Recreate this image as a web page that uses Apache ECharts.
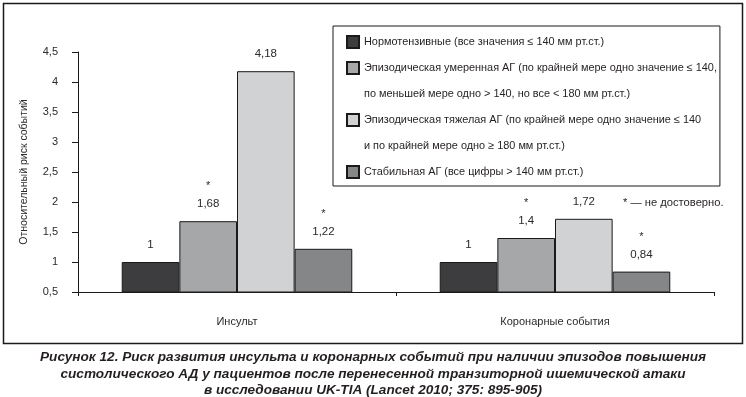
<!DOCTYPE html>
<html>
<head>
<meta charset="utf-8">
<script src="https://cdn.jsdelivr.net/npm/echarts@6/dist/echarts.min.js"></script>
<style>
  html, body { margin: 0; padding: 0; background: #ffffff; }
  #chart { width: 746px; height: 397px; }
</style>
</head>
<body>
<div id="chart"></div>
<script>
// ---- data ----
const categories = ['Инсульт', 'Коронарные события'];
const seriesNames = [
  'Нормотензивные (все значения ≤ 140 мм рт.ст.)',
  'Эпизодическая умеренная АГ (по крайней мере одно значение ≤ 140,',
  'Эпизодическая тяжелая АГ (по крайней мере одно значение ≤ 140',
  'Стабильная АГ (все цифры > 140 мм рт.ст.)'
];
const legendSecondLines = [
  '',
  'по меньшей мере одно > 140, но все < 180 мм рт.ст.)',
  'и по крайней мере одно ≥ 180 мм рт.ст.)',
  ''
];
const normotensive = [1, 1];
const episodicModerate = [1.68, 1.4];
const episodicSevere = [4.18, 1.72];
const stableAH = [1.22, 0.84];
const notSignificant = [
  [false, false],
  [true, true],
  [false, false],
  [true, true]
];
const yMin = 0.5, yMax = 4.5, yStep = 0.5;
const yAxisTitle = 'Относительный риск событий';
const footnote = '* — не достоверно.';
const caption = 'Рисунок 12. Риск развития инсульта и коронарных событий при наличии эпизодов повышения\nсистолического АД у пациентов после перенесенной транзиторной ишемической атаки\nв исследовании UK-TIA (Lancet 2010; 375: 895-905)';

const seriesValues = [normotensive, episodicModerate, episodicSevere, stableAH];
const barColors = ['#3d3d3f', '#a6a7a9', '#d1d2d4', '#858688'];

const FONT = "'Liberation Sans Narrow', 'Arial Narrow', 'Liberation Sans', Arial, sans-serif";
const fmt = v => String(v).replace('.', ',');

const chart = echarts.init(document.getElementById('chart'), null, { renderer: 'canvas' });

const series = seriesValues.map((vals, si) => ({
  name: seriesNames[si],
  type: 'bar',
  data: vals,
  barGap: '0%',
  barCategoryGap: '27.5%',
  itemStyle: { color: barColors[si], borderColor: '#1a1a1a', borderWidth: 1 },
  label: {
    show: true,
    position: 'top',
    distance: 10,
    formatter: p => {
      const v = fmt(p.value);
      return notSignificant[p.seriesIndex][p.dataIndex] ? '{s|*}\n{v|' + v + '}' : '{v|' + v + '}';
    },
    rich: {
      s: { fontSize: 11, lineHeight: 22, color: '#2a2a2a', fontFamily: FONT },
      v: { fontSize: 11.5, lineHeight: 14, color: '#2a2a2a', fontFamily: FONT }
    }
  }
}));

chart.setOption({
  animation: false,
  textStyle: { fontFamily: FONT },
  legend: {
    orient: 'vertical',
    left: 333,
    top: 26,
    padding: [3, 3, -25, 13],
    itemGap: -26,
    itemWidth: 12,
    itemHeight: 12,
    icon: 'rect',
    selectedMode: false,
    borderColor: '#1a1a1a',
    borderWidth: 1,
    backgroundColor: '#ffffff',
    data: seriesNames,
    formatter: name => {
      const i = seriesNames.indexOf(name);
      if (i === 0) return name;
      return '\n' + name + '\n' + legendSecondLines[i];
    },
    textStyle: { fontFamily: FONT, fontSize: 10.9, lineHeight: 26, color: '#231f20' }
  },
  grid: { left: 78, right: 32, top: 52, bottom: 105 },
  xAxis: {
    type: 'category',
    data: categories,
    axisLine: { lineStyle: { color: '#1a1a1a', width: 1 } },
    axisTick: { show: true, length: 4, lineStyle: { color: '#1a1a1a' } },
    axisLabel: { margin: 24, fontSize: 11, color: '#2a2a2a', fontFamily: FONT }
  },
  yAxis: {
    type: 'value',
    min: yMin,
    max: yMax,
    interval: yStep,
    name: yAxisTitle,
    nameLocation: 'middle',
    nameGap: 48,
    nameTextStyle: { fontSize: 10.5, color: '#2a2a2a', fontFamily: FONT },
    splitLine: { show: false },
    axisLine: { show: true, lineStyle: { color: '#1a1a1a', width: 1 } },
    axisTick: { show: true, length: 6, lineStyle: { color: '#1a1a1a' } },
    axisLabel: { margin: 20, fontSize: 11, color: '#2a2a2a', fontFamily: FONT, formatter: v => fmt(v) }
  },
  graphic: [
    {
      type: 'rect',
      z: -10,
      shape: { x: 3.5, y: 3.5, width: 739, height: 340 },
      style: { fill: 'none', stroke: '#1a1a1a', lineWidth: 1.5 }
    },
    {
      type: 'text',
      left: 623,
      top: 197,
      style: { text: footnote, fontFamily: FONT, fontSize: 11.2, fill: '#231f20' }
    },
    {
      type: 'text',
      style: {
        text: caption,
        x: 373,
        y: 349,
        textAlign: 'center',
        textVerticalAlign: 'top',
        fontFamily: FONT,
        fontSize: 13.6,
        fontWeight: 'bold',
        fontStyle: 'italic',
        lineHeight: 16.5,
        fill: '#231f20'
      }
    }
  ],
  series: series
});
</script>
</body>
</html>
